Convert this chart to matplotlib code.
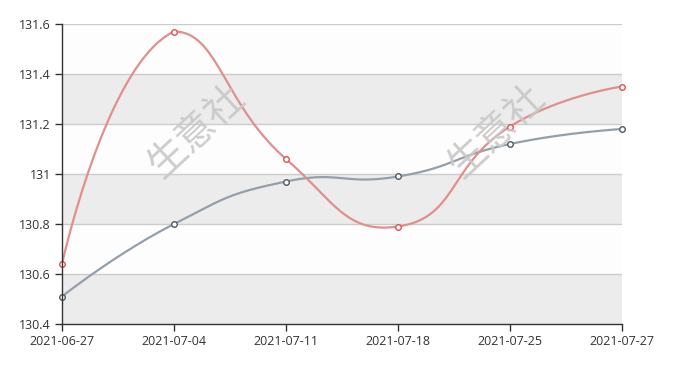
import numpy as np
import matplotlib
matplotlib.use("Agg")
import matplotlib.pyplot as plt

dates = ["2021-06-27", "2021-07-04", "2021-07-11", "2021-07-18", "2021-07-25", "2021-07-27"]
red_vals = [130.64, 131.57, 131.06, 130.79, 131.19, 131.35]
gray_vals = [130.51, 130.80, 130.97, 130.99, 131.12, 131.18]
y_ticks = [130.4, 130.6, 130.8, 131.0, 131.2, 131.4, 131.6]
y_labels = ["130.4", "130.6", "130.8", "131", "131.2", "131.4", "131.6"]


def smooth_pixels(px, py, smooth=0.5, steps=40):
    # bezier smoothing like echarts 4, control points kept inside the points' bbox
    n = len(px)
    lo = np.array([px.min(), py.min()])
    hi = np.array([px.max(), py.max()])
    P = np.column_stack([px, py])
    out = [P[0]]
    cp0 = P[0].copy()
    v = np.zeros(2)
    ratio = 0.5
    for i in range(1, n):
        p = P[i]
        if i == n - 1:
            cp1 = p.copy()
        else:
            prev, nxt = P[i - 1], P[i + 1]
            v = nxt - prev
            lp = np.linalg.norm(p - prev)
            ln = np.linalg.norm(nxt - p)
            ratio = ln / (ln + lp)
            cp1 = p - v * smooth * (1 - ratio)
        cp0 = np.clip(cp0, lo, hi)
        cp1 = np.clip(cp1, lo, hi)
        t = np.linspace(0, 1, steps)[1:, None]
        b = (1 - t) ** 3 * P[i - 1] + 3 * (1 - t) ** 2 * t * cp0 + 3 * (1 - t) * t ** 2 * cp1 + t ** 3 * p
        out.extend(b)
        cp0 = p + v * smooth * ratio
    out = np.array(out)
    return out[:, 0], out[:, 1]


W, H = 673, 366
fig = plt.figure(figsize=(W / 100, H / 100), dpi=100)
ax = fig.add_axes([62 / W, (H - 324) / H, 560 / W, 300 / H])

xs = np.arange(len(dates))
ax.set_xlim(0, len(dates) - 1)
ax.set_ylim(y_ticks[0], y_ticks[-1])

# alternating bands
for k in range(len(y_ticks) - 1):
    c = "#ececec" if k % 2 == 0 else "#fdfdfd"
    ax.axhspan(y_ticks[k], y_ticks[k + 1], color=c, zorder=0, lw=0)
for yt in y_ticks[1:]:
    ax.axhline(yt, color="#cccccc", lw=1, zorder=1)

fig.canvas.draw()
inv = ax.transData.inverted()
for vals, lc, mc in [(gray_vals, "#959fa9", "#4d5b69"), (red_vals, "#e0908c", "#d9534f")]:
    pts = ax.transData.transform(np.column_stack([xs, vals]))
    sx, sy = smooth_pixels(pts[:, 0], pts[:, 1])
    dpts = inv.transform(np.column_stack([sx, sy]))
    ax.plot(dpts[:, 0], dpts[:, 1], color=lc, lw=1.6, zorder=4, clip_on=False)
    ax.plot(xs, vals, "o", ms=4, mfc="white", mec=mc, mew=1, zorder=5, clip_on=False)

# watermarks
for cx, cy in [(197, 131), (497, 131)]:
    fig.text(cx / W, 1 - cy / H, "生意社", rotation=43, fontsize=28,
             family=["Noto Sans CJK SC", "DejaVu Sans"], color="#c8c8c8",
             ha="center", va="center", zorder=3, alpha=0.9)

ax.set_xticks(xs)
ax.set_xticklabels(dates)
ax.set_yticks(y_ticks)
ax.set_yticklabels(y_labels)
for s in ["top", "right"]:
    ax.spines[s].set_visible(False)
for s in ["left", "bottom"]:
    ax.spines[s].set_color("#333333")
    ax.spines[s].set_linewidth(1)
    ax.spines[s].set_zorder(6)
ax.tick_params(colors="#333333", labelsize=9, length=5, width=1, pad=3)
for lab in ax.get_xticklabels() + ax.get_yticklabels():
    lab.set_family(["Open Sans", "DejaVu Sans"])
    lab.set_color("#333333")

fig.savefig("out.png", dpi=100)
